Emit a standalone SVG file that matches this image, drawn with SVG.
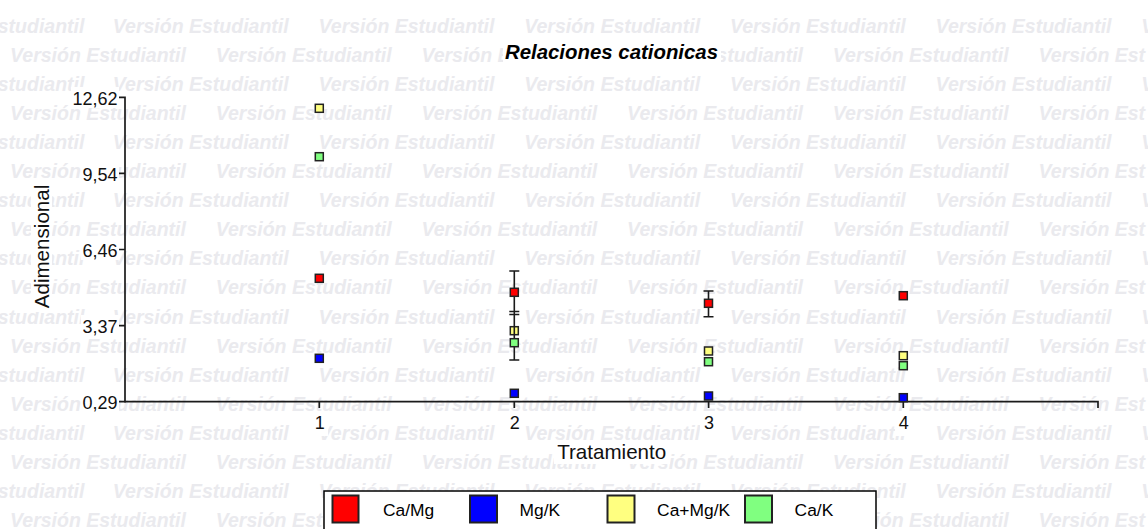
<svg xmlns="http://www.w3.org/2000/svg" width="1148" height="529" viewBox="0 0 1148 529">
<style>
text{font-family:"Liberation Sans",Arial,sans-serif;}
.wm{font-size:19.5px;font-weight:bold;font-style:italic;fill:#eaeaee;}
.cover{fill:#ffffff;}
.ax{stroke:#1a1a1a;stroke-width:1.7;fill:none;}
.tick{font-size:18px;fill:#111;}
.ytl{text-anchor:end;}
.xtl{text-anchor:middle;}
.atitle{font-size:20.6px;fill:#111;text-anchor:middle;}
.title{font-size:20.4px;font-weight:bold;font-style:italic;fill:#000;text-anchor:middle;}
.mk{stroke:#222;stroke-width:1.5;}
.eb{stroke:#1a1a1a;stroke-width:1.6;fill:none;}
.sw{stroke:#222;stroke-width:2;}
.lt{font-size:17.4px;fill:#000;}
.r{fill:#ff0000;}.b{fill:#0000ff;}.y{fill:#ffff80;}.g{fill:#80ff80;}
</style>
<rect x="0" y="0" width="1148" height="529" fill="#ffffff"/>
<g id="watermark">
<text class="wm" y="33"><tspan x="-91.5">Versión Estudiantil</tspan><tspan x="112.8">Versión Estudiantil</tspan><tspan x="318.5">Versión Estudiantil</tspan><tspan x="524.2">Versión Estudiantil</tspan><tspan x="729.9">Versión Estudiantil</tspan><tspan x="935.6">Versión Estudiantil</tspan><tspan x="1141.3">V</tspan></text>
<text class="wm" y="62.05"><tspan x="10">Versión Estudiantil</tspan><tspan x="215.7">Versión Estudiantil</tspan><tspan x="421.4">Versión Estudiantil</tspan><tspan x="627.1">Versión Estudiantil</tspan><tspan x="832.8">Versión Estudiantil</tspan><tspan x="1038.5">Versión Est</tspan></text>
<text class="wm" y="91.1"><tspan x="-91.5">Versión Estudiantil</tspan><tspan x="112.8">Versión Estudiantil</tspan><tspan x="318.5">Versión Estudiantil</tspan><tspan x="524.2">Versión Estudiantil</tspan><tspan x="729.9">Versión Estudiantil</tspan><tspan x="935.6">Versión Estudiantil</tspan><tspan x="1141.3">V</tspan></text>
<text class="wm" y="120.15"><tspan x="10">Versión Estudiantil</tspan><tspan x="215.7">Versión Estudiantil</tspan><tspan x="421.4">Versión Estudiantil</tspan><tspan x="627.1">Versión Estudiantil</tspan><tspan x="832.8">Versión Estudiantil</tspan><tspan x="1038.5">Versión Est</tspan></text>
<text class="wm" y="149.2"><tspan x="-91.5">Versión Estudiantil</tspan><tspan x="112.8">Versión Estudiantil</tspan><tspan x="318.5">Versión Estudiantil</tspan><tspan x="524.2">Versión Estudiantil</tspan><tspan x="729.9">Versión Estudiantil</tspan><tspan x="935.6">Versión Estudiantil</tspan><tspan x="1141.3">V</tspan></text>
<text class="wm" y="178.25"><tspan x="10">Versión Estudiantil</tspan><tspan x="215.7">Versión Estudiantil</tspan><tspan x="421.4">Versión Estudiantil</tspan><tspan x="627.1">Versión Estudiantil</tspan><tspan x="832.8">Versión Estudiantil</tspan><tspan x="1038.5">Versión Est</tspan></text>
<text class="wm" y="207.3"><tspan x="-91.5">Versión Estudiantil</tspan><tspan x="112.8">Versión Estudiantil</tspan><tspan x="318.5">Versión Estudiantil</tspan><tspan x="524.2">Versión Estudiantil</tspan><tspan x="729.9">Versión Estudiantil</tspan><tspan x="935.6">Versión Estudiantil</tspan><tspan x="1141.3">V</tspan></text>
<text class="wm" y="236.35"><tspan x="10">Versión Estudiantil</tspan><tspan x="215.7">Versión Estudiantil</tspan><tspan x="421.4">Versión Estudiantil</tspan><tspan x="627.1">Versión Estudiantil</tspan><tspan x="832.8">Versión Estudiantil</tspan><tspan x="1038.5">Versión Est</tspan></text>
<text class="wm" y="265.4"><tspan x="-91.5">Versión Estudiantil</tspan><tspan x="112.8">Versión Estudiantil</tspan><tspan x="318.5">Versión Estudiantil</tspan><tspan x="524.2">Versión Estudiantil</tspan><tspan x="729.9">Versión Estudiantil</tspan><tspan x="935.6">Versión Estudiantil</tspan><tspan x="1141.3">V</tspan></text>
<text class="wm" y="294.45"><tspan x="10">Versión Estudiantil</tspan><tspan x="215.7">Versión Estudiantil</tspan><tspan x="421.4">Versión Estudiantil</tspan><tspan x="627.1">Versión Estudiantil</tspan><tspan x="832.8">Versión Estudiantil</tspan><tspan x="1038.5">Versión Est</tspan></text>
<text class="wm" y="323.5"><tspan x="-91.5">Versión Estudiantil</tspan><tspan x="112.8">Versión Estudiantil</tspan><tspan x="318.5">Versión Estudiantil</tspan><tspan x="524.2">Versión Estudiantil</tspan><tspan x="729.9">Versión Estudiantil</tspan><tspan x="935.6">Versión Estudiantil</tspan><tspan x="1141.3">V</tspan></text>
<text class="wm" y="352.55"><tspan x="10">Versión Estudiantil</tspan><tspan x="215.7">Versión Estudiantil</tspan><tspan x="421.4">Versión Estudiantil</tspan><tspan x="627.1">Versión Estudiantil</tspan><tspan x="832.8">Versión Estudiantil</tspan><tspan x="1038.5">Versión Est</tspan></text>
<text class="wm" y="381.6"><tspan x="-91.5">Versión Estudiantil</tspan><tspan x="112.8">Versión Estudiantil</tspan><tspan x="318.5">Versión Estudiantil</tspan><tspan x="524.2">Versión Estudiantil</tspan><tspan x="729.9">Versión Estudiantil</tspan><tspan x="935.6">Versión Estudiantil</tspan><tspan x="1141.3">V</tspan></text>
<text class="wm" y="410.65"><tspan x="10">Versión Estudiantil</tspan><tspan x="215.7">Versión Estudiantil</tspan><tspan x="421.4">Versión Estudiantil</tspan><tspan x="627.1">Versión Estudiantil</tspan><tspan x="832.8">Versión Estudiantil</tspan><tspan x="1038.5">Versión Est</tspan></text>
<text class="wm" y="439.7"><tspan x="-91.5">Versión Estudiantil</tspan><tspan x="112.8">Versión Estudiantil</tspan><tspan x="318.5">Versión Estudiantil</tspan><tspan x="524.2">Versión Estudiantil</tspan><tspan x="729.9">Versión Estudiantil</tspan><tspan x="935.6">Versión Estudiantil</tspan><tspan x="1141.3">V</tspan></text>
<text class="wm" y="468.75"><tspan x="10">Versión Estudiantil</tspan><tspan x="215.7">Versión Estudiantil</tspan><tspan x="421.4">Versión Estudiantil</tspan><tspan x="627.1">Versión Estudiantil</tspan><tspan x="832.8">Versión Estudiantil</tspan><tspan x="1038.5">Versión Est</tspan></text>
<text class="wm" y="497.8"><tspan x="-91.5">Versión Estudiantil</tspan><tspan x="112.8">Versión Estudiantil</tspan><tspan x="318.5">Versión Estudiantil</tspan><tspan x="524.2">Versión Estudiantil</tspan><tspan x="729.9">Versión Estudiantil</tspan><tspan x="935.6">Versión Estudiantil</tspan><tspan x="1141.3">V</tspan></text>
<text class="wm" y="526.85"><tspan x="10">Versión Estudiantil</tspan><tspan x="215.7">Versión Estudiantil</tspan><tspan x="421.4">Versión Estudiantil</tspan><tspan x="627.1">Versión Estudiantil</tspan><tspan x="832.8">Versión Estudiantil</tspan><tspan x="1038.5">Versión Est</tspan></text>
</g>
<g id="title">
<rect class="cover" x="503" y="40" width="218" height="25"/>
<text class="title" x="611.5" y="59">Relaciones cationicas</text>
</g>
<g id="y-axis">
<rect class="cover" x="71" y="87" width="48" height="21"/>
<rect class="cover" x="81" y="162" width="38" height="21"/>
<rect class="cover" x="81" y="238" width="38" height="22"/>
<rect class="cover" x="81" y="315" width="38" height="21"/>
<rect class="cover" x="81" y="391" width="38" height="21"/>
<rect class="cover" x="31" y="181" width="21" height="131"/>
<path class="ax" d="M125,96.5 V402.5 M119,97.3 H125 M119,173.4 H125 M119,249.5 H125 M119,325.6 H125 M119,401.7 H125"/>
<text class="tick ytl" x="117.5" y="104.5">12,62</text>
<text class="tick ytl" x="117.5" y="180.5">9,54</text>
<text class="tick ytl" x="117.5" y="256.5">6,46</text>
<text class="tick ytl" x="117.5" y="332.5">3,37</text>
<text class="tick ytl" x="117.5" y="408.5">0,29</text>
<text class="atitle" transform="translate(49,246.5) rotate(-90)" x="0" y="0" font-size="21">Adimensional</text>
</g>
<g id="x-axis">
<rect class="cover" x="311" y="413" width="17" height="23"/>
<rect class="cover" x="506" y="413" width="17" height="23"/>
<rect class="cover" x="700" y="413" width="17" height="23"/>
<rect class="cover" x="895" y="413" width="17" height="23"/>
<rect class="cover" x="554" y="442" width="116" height="22"/>
<path class="ax" d="M124.2,401.7 H1098 V408 M319.3,401.7 V408 M514.3,401.7 V408 M708.6,401.7 V408 M903.3,401.7 V408"/>
<text class="tick xtl" x="319.8" y="429">1</text>
<text class="tick xtl" x="514.8" y="429">2</text>
<text class="tick xtl" x="709" y="429">3</text>
<text class="tick xtl" x="903.8" y="429">4</text>
<text class="atitle" x="611.7" y="459">Tratamiento</text>
</g>
<g id="series-yellow-under">
<rect class="mk y" x="510.3" y="326.7" width="8" height="8"/>
</g>
<g id="connectors">
<path class="eb" d="M514.3,271 V360 M509.3,271 H519.3 M509.3,311.5 H519.3 M509.3,314.5 H519.3 M509.3,360 H519.3"/>
<path class="eb" d="M708.5,291 V316.7 M703.5,291 H713.5 M703.5,316.7 H713.5"/>
</g>
<g id="series-camg">
<rect class="mk r" x="315.3" y="274.3" width="8" height="8"/>
<rect class="mk r" x="510.3" y="288.3" width="8" height="8"/>
<rect class="mk r" x="704.5" y="299.3" width="8" height="8"/>
<rect class="mk r" x="899.3" y="291.7" width="8" height="8"/>
</g>
<g id="series-mgk">
<rect class="mk b" x="315.3" y="354.3" width="8" height="8"/>
<rect class="mk b" x="510.3" y="389.3" width="8" height="8"/>
<rect class="mk b" x="704.5" y="392" width="8" height="8"/>
<rect class="mk b" x="899.3" y="393.7" width="8" height="8"/>
</g>
<g id="series-camgk">
<rect class="mk y" x="315.3" y="104.3" width="8" height="8"/>
<rect class="mk y" x="704.5" y="347" width="8" height="8"/>
<rect class="mk y" x="899.3" y="351.7" width="8" height="8"/>
</g>
<g id="series-cak">
<rect class="mk g" x="315.3" y="152.7" width="8" height="8"/>
<rect class="mk g" x="510.3" y="338.7" width="8" height="8"/>
<rect class="mk g" x="704.5" y="357.7" width="8" height="8"/>
<rect class="mk g" x="899.3" y="361.7" width="8" height="8"/>
</g>
<g id="legend">
<rect x="324" y="491" width="552" height="50" fill="#ffffff" stroke="#000" stroke-width="1.5"/>
<rect class="sw r" x="332.5" y="495.5" width="26" height="27"/>
<text class="lt" x="383" y="516">Ca/Mg</text>
<rect class="sw b" x="470" y="495.5" width="27" height="27"/>
<text class="lt" x="519.6" y="516">Mg/K</text>
<rect class="sw y" x="607.5" y="495.5" width="27" height="27"/>
<text class="lt" x="657.1" y="516">Ca+Mg/K</text>
<rect class="sw g" x="745" y="495.5" width="27" height="27"/>
<text class="lt" x="794.6" y="516">Ca/K</text>
</g>
</svg>
